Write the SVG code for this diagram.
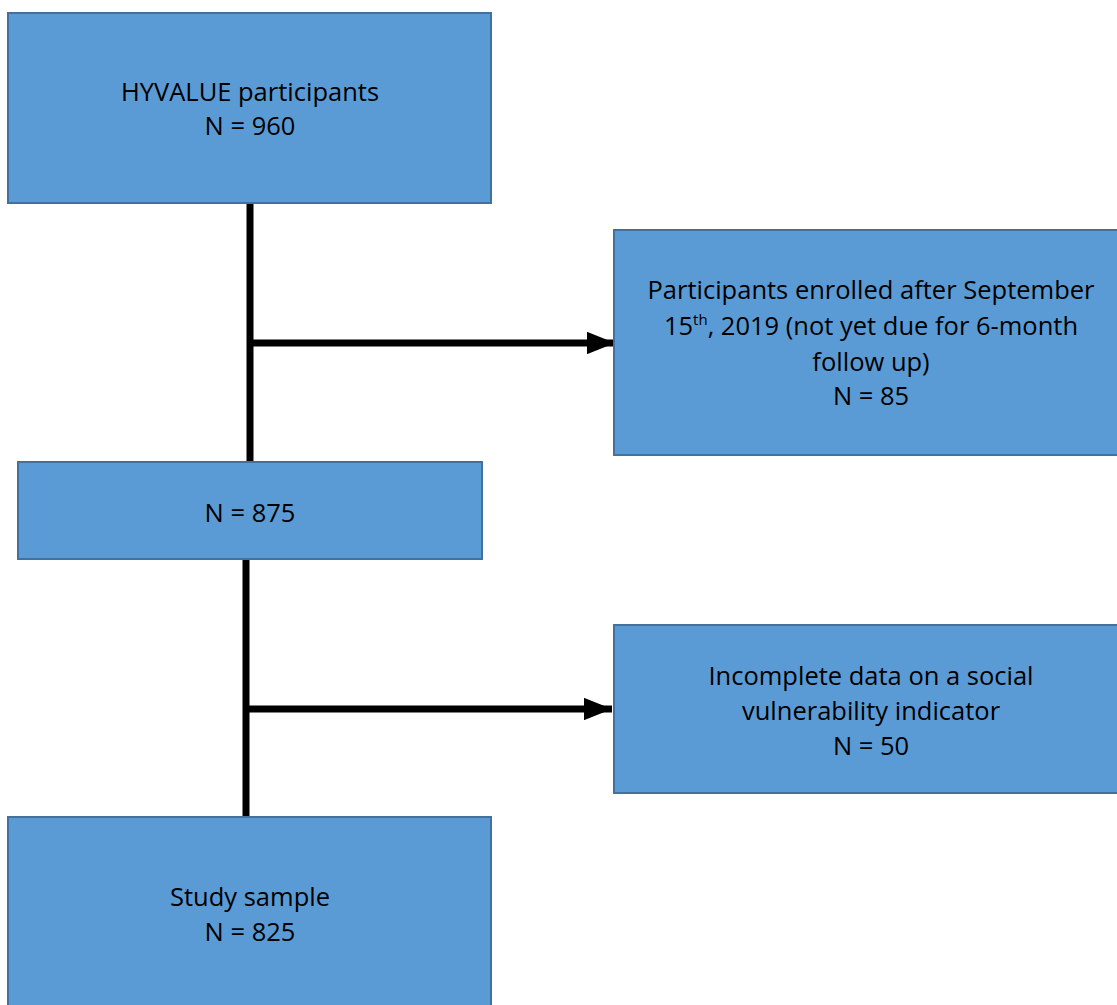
<svg xmlns="http://www.w3.org/2000/svg" width="1117" height="1005" viewBox="0 0 1117 1005">
<style>
.box{fill:#5B9BD5;stroke:#41719C;stroke-width:2}
.t{font-family:"Open Sans","Liberation Sans",sans-serif;font-size:25.5px;fill:#000;text-anchor:middle}
.ln{stroke:#000;stroke-width:7;fill:none}
</style>
<defs>
<marker id="ah" markerWidth="4" markerHeight="3.2" refX="4" refY="1.6" orient="auto" markerUnits="strokeWidth">
<path d="M0,0 L4,1.6 L0,3.2 Z" fill="#000"/>
</marker>
</defs>
<g id="connectors">
<line class="ln" x1="250" y1="203" x2="250" y2="462"/>
<line class="ln" x1="250" y1="343" x2="615" y2="343" marker-end="url(#ah)"/>
<line class="ln" x1="246" y1="559" x2="246" y2="818"/>
<line class="ln" x1="246" y1="709" x2="612" y2="709" marker-end="url(#ah)"/>
</g>
<g id="n960">
<rect class="box" x="8" y="13" width="483" height="190"/>
<text class="t" x="250" y="101">HYVALUE participants</text>
<text class="t" x="250" y="135">N = 960</text>
</g>
<g id="n85">
<rect class="box" x="614" y="230" width="520" height="225"/>
<text class="t" x="871" y="299">Participants enrolled after September</text>
<text class="t" x="871" y="335">15<tspan font-size="15" dy="-10">th</tspan><tspan dy="10">, 2019 (not yet due for 6-month</tspan></text>
<text class="t" x="871" y="371">follow up)</text>
<text class="t" x="871" y="405">N = 85</text>
</g>
<g id="n875">
<rect class="box" x="18" y="462" width="464" height="97"/>
<text class="t" x="250" y="522">N = 875</text>
</g>
<g id="n50">
<rect class="box" x="614" y="625" width="520" height="168"/>
<text class="t" x="871" y="685">Incomplete data on a social</text>
<text class="t" x="871" y="720">vulnerability indicator</text>
<text class="t" x="871" y="755">N = 50</text>
</g>
<g id="n825">
<rect class="box" x="8" y="817" width="483" height="200"/>
<text class="t" x="250" y="906">Study sample</text>
<text class="t" x="250" y="941">N = 825</text>
</g>
</svg>
